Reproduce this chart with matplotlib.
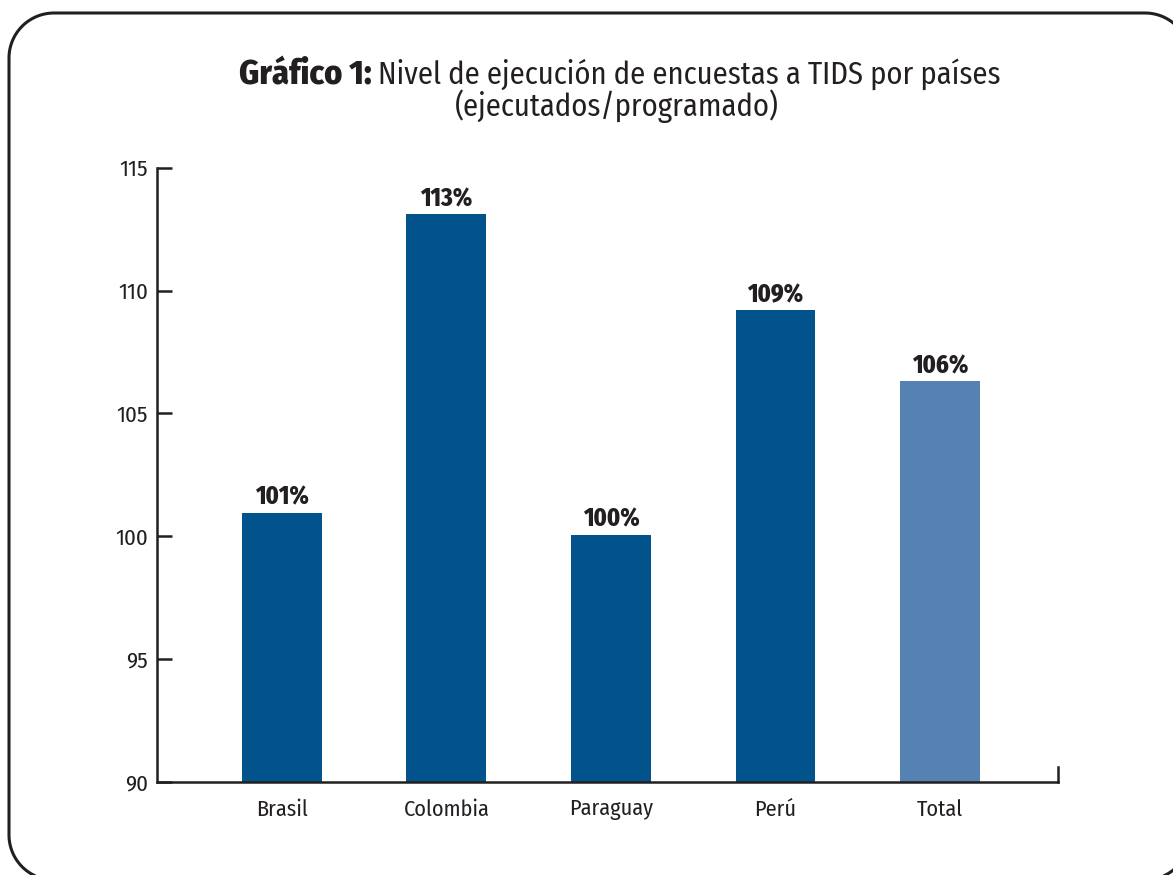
import matplotlib
matplotlib.use("Agg")
import matplotlib.pyplot as plt
import numpy as np
from matplotlib.patches import Polygon

plt.rcParams['font.family'] = ['Fira Sans Condensed', 'Archivo Narrow', 'Liberation Sans', 'DejaVu Sans']

# data
paises = ["Brasil", "Colombia", "Paraguay", "Perú", "Total"]
nivel = [100.95, 113.1, 100.05, 109.2, 106.3]
etiquetas = ["101%", "113%", "100%", "109%", "106%"]
colores = ["#02538b", "#02538b", "#02538b", "#02538b", "#5682b3"]
yticks = [90, 95, 100, 105, 110, 115]

W, H = 1173, 875
fig = plt.figure(figsize=(W / 100, H / 100), dpi=100)
ink = "#231f20"


def rounded_rect(left, top, right, bottom, r, n=30):
    # corners in pixel coords (y from top), returned in figure fractions
    pts = []
    corners = [(right - r, top + r, -90, 0), (right - r, bottom - r, 0, 90),
               (left + r, bottom - r, 90, 180), (left + r, top + r, 180, 270)]
    for cx, cy, a0, a1 in corners:
        t = np.radians(np.linspace(a0, a1, n))
        pts += [(cx + r * np.cos(a), cy + r * np.sin(a)) for a in t]
    return [(px / W, 1 - py / H) for px, py in pts]


frame = Polygon(rounded_rect(9, 13, 1190, 880, 45), closed=True, fill=False,
                edgecolor=ink, linewidth=2.2, transform=fig.transFigure)
fig.patches.append(frame)

# title (bold part + regular part)
fig.text(372 / W, 1 - 74 / H, "Gráfico 1:", ha="right", va="center",
         fontsize=24.5, fontweight="heavy", color=ink)
fig.text(378 / W, 1 - 74 / H, "Nivel de ejecución de encuestas a TIDS por países",
         ha="left", va="center", fontsize=22, color=ink)
fig.text(617 / W, 1 - 106 / H, "(ejecutados/programado)",
         ha="center", va="center", fontsize=22, color=ink)

ax = fig.add_axes([157 / W, 1 - 782 / H, (1058 - 157) / W, (782 - 167.7) / H])
x = list(range(len(paises)))
ax.bar(x, nivel, width=0.486, color=colores, zorder=1)
for xi, v, lab in zip(x, nivel, etiquetas):
    ax.text(xi, v + 0.12, lab, ha="center", va="bottom", fontsize=17.5,
            fontweight="heavy", color=ink)

ax.set_ylim(90, 115)
ax.set_xlim(-0.759, 4.717)
ax.set_yticks(yticks)
ax.set_xticks(x)
ax.set_xticklabels(paises)

ax.spines["top"].set_visible(False)
ax.spines["right"].set_bounds(90, 90.6)
for s in ["left", "bottom", "right"]:
    ax.spines[s].set_linewidth(1.8)
    ax.spines[s].set_color(ink)
    ax.spines[s].set_zorder(3)

ax.tick_params(axis="y", direction="in", length=11, width=1.8, pad=6.5,
               labelsize=16.5, colors=ink)
ax.tick_params(axis="x", length=0, pad=12, labelsize=16, colors=ink)

fig.savefig("out.png", dpi=100)
